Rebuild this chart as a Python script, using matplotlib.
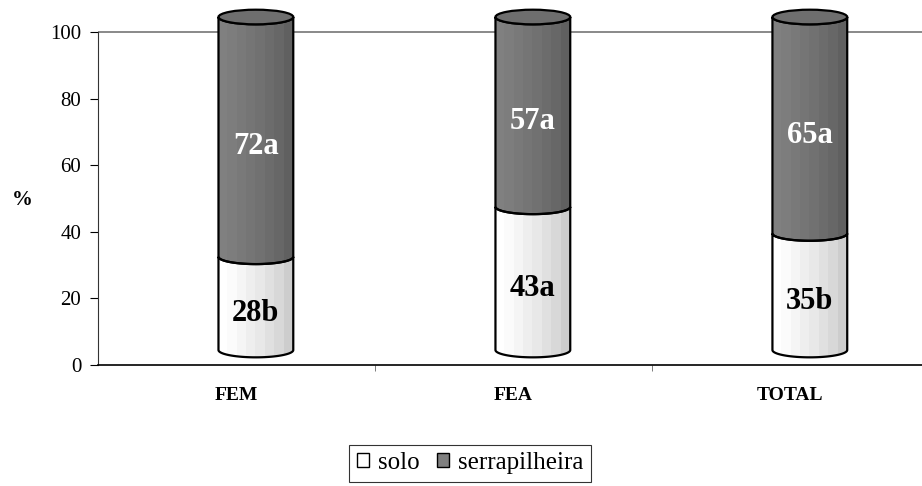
import matplotlib.pyplot as plt
import numpy as np
from matplotlib.patches import Polygon, Ellipse, Patch
from matplotlib.colors import ListedColormap

# Dados
categorias = ['FEM', 'FEA', 'TOTAL']
solo = [28, 43, 35]
serrapilheira = [72, 57, 65]
rotulos_solo = ['28b', '43a', '35b']
rotulos_serra = ['72a', '57a', '65a']

plt.rcParams['font.family'] = ['Liberation Serif', 'DejaVu Serif']

# Cores (faixas do sombreamento do cilindro)
cores_solo = ['#ffffff', '#fbfbfb', '#f5f5f5', '#eeeeee', '#e8e8e8',
              '#e0e0e0', '#d8d8d8', '#cdcdcd']
cores_serra = ['#808080', '#7d7d7d', '#797979', '#757575', '#717171',
               '#6c6c6c', '#676767', '#606060']
cor_topo = '#6e6e6e'

# Geometria do cilindro (efeito 3D)
a = 0.135      # meia largura
b = 2.2        # meia altura da elipse
dx = 0.07      # deslocamento de profundidade
dy = 4.5

fig = plt.figure(figsize=(9.22, 4.86), dpi=100)
ax = fig.add_axes([98 / 922, 121 / 486, 824 / 922, 108 * 3.33 / 486])


def cilindro(ax, xc, y0, y1, cores):
    t = np.linspace(np.pi, 2 * np.pi, 80)
    xs = np.r_[xc + a * np.cos(t), xc + a * np.cos(t[::-1])]
    ys = np.r_[y0 + b * np.sin(t), y1 + b * np.sin(t[::-1])]
    corpo = Polygon(np.column_stack([xs, ys]), closed=True, facecolor='none',
                    edgecolor='black', lw=1.6, zorder=3, clip_on=False)
    ax.add_patch(corpo)
    im = ax.imshow(np.arange(len(cores))[None, :], cmap=ListedColormap(cores),
                   extent=[xc - a, xc + a, y0 - b, y1 + b], aspect='auto',
                   interpolation='nearest', zorder=2)
    im.set_clip_path(corpo)


ax.axhline(100, color='#808080', lw=1.3, zorder=1)

x = np.arange(len(categorias))
for i in range(len(categorias)):
    xc = x[i] + dx
    base = dy
    cilindro(ax, xc, base, base + solo[i], cores_solo)
    cilindro(ax, xc, base + solo[i], base + solo[i] + serrapilheira[i], cores_serra)
    topo = base + solo[i] + serrapilheira[i]
    ax.add_patch(Ellipse((xc, topo), 2 * a, 2 * b, facecolor=cor_topo,
                         edgecolor='black', lw=1.6, zorder=4, clip_on=False))
    ax.text(xc, solo[i] / 2 + 1.5, rotulos_solo[i], ha='center', va='center',
            fontsize=22, fontweight='bold', color='black', zorder=5)
    ax.text(xc, solo[i] + serrapilheira[i] / 2 + 1.5, rotulos_serra[i],
            ha='center', va='center', fontsize=22, fontweight='bold',
            color='white', zorder=5)

ax.set_xlim(-0.5, 2.475)
ax.set_ylim(0, 108)

# Eixos
ax.spines['top'].set_visible(False)
ax.spines['right'].set_visible(False)
ax.spines['left'].set_bounds(0, 100)
ax.spines['left'].set_color('#333333')
ax.spines['bottom'].set_color('black')
ax.spines['bottom'].set_linewidth(1.2)

ax.set_yticks(range(0, 101, 20))
ax.tick_params(axis='y', direction='out', length=6, labelsize=15, pad=6)
ax.set_xticks(x)
ax.set_xticklabels(categorias, fontsize=14, fontweight='bold')
ax.tick_params(axis='x', which='major', length=0, pad=16)
ax.set_xticks([0.5, 1.5], minor=True)
ax.tick_params(axis='x', which='minor', direction='out', length=4,
               color='#666666')

fig.text(22 / 922, 1 - 200 / 486, '%', fontsize=15, fontweight='bold',
         ha='center', va='center')

# Legenda
handles = [Patch(facecolor='white', edgecolor='black', lw=1),
           Patch(facecolor='#808080', edgecolor='black', lw=1)]
leg = fig.legend(handles, ['solo', 'serrapilheira'], loc='center',
                 bbox_to_anchor=(470 / 922, 1 - 463 / 486), ncol=2,
                 fontsize=18, frameon=True, fancybox=False,
                 handlelength=0.5, handleheight=0.5, handletextpad=0.35,
                 columnspacing=0.7, borderpad=0.3, borderaxespad=0)
leg.get_frame().set_edgecolor('black')
leg.get_frame().set_linewidth(0.8)

plt.savefig('out.png', dpi=100)
